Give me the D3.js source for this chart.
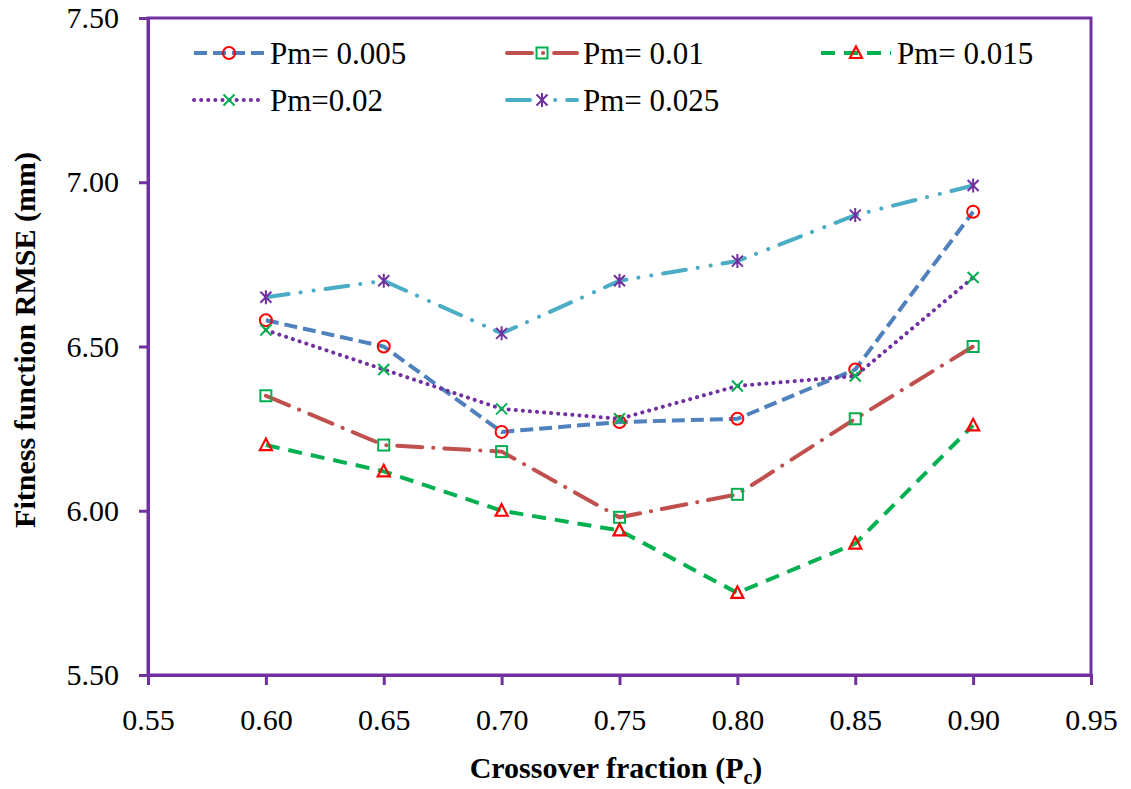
<!DOCTYPE html>
<html>
<head>
<meta charset="utf-8">
<script src="https://cdn.jsdelivr.net/npm/d3@7"></script>
<style>
    body { margin: 0; background: #fff; }
    text { font-family: "Liberation Serif", "Times New Roman", serif; fill: #000; }
</style>
</head>
<body>
<div class="chart"></div>
<script>
// crossover fraction values (x)
var crossover = [0.60, 0.65, 0.70, 0.75, 0.80, 0.85, 0.90];

// RMSE values for each mutation probability
var pm005 = [6.58, 6.50, 6.24, 6.27, 6.28, 6.43, 6.91];
var pm010 = [6.35, 6.20, 6.18, 5.98, 6.05, 6.28, 6.50];
var pm015 = [6.20, 6.12, 6.00, 5.94, 5.75, 5.90, 6.26];
var pm020 = [6.55, 6.43, 6.31, 6.28, 6.38, 6.41, 6.71];
var pm025 = [6.65, 6.70, 6.54, 6.70, 6.76, 6.90, 6.99];

var seriesNames = ["Pm= 0.005", "Pm= 0.01", "Pm= 0.015", "Pm=0.02", "Pm= 0.025"];

var xTicks = [0.55, 0.60, 0.65, 0.70, 0.75, 0.80, 0.85, 0.90, 0.95];
var yTicks = [5.50, 6.00, 6.50, 7.00, 7.50];

var purple = "#7030a0";

// line + marker styles per series
var styles = [
    { color: "#4f81bd", dash: "13,6", cap: "butt", width: 4, marker: "circle", mcolor: "#ff0000" },
    { color: "#c0504d", dash: "25,11,0.1,11", cap: "round", width: 4, marker: "square", mcolor: "#00b050" },
    { color: "#00b050", dash: "14,9", cap: "butt", width: 4, marker: "triangle", mcolor: "#ff0000" },
    { color: "#7030a0", dash: "0.1,7", cap: "round", width: 4, marker: "x", mcolor: "#00b050" },
    { color: "#4bacc6", dash: "23,12,0.1,13,0.1,12", cap: "round", width: 4, marker: "star", mcolor: "#7030a0" }
];

var allSeries = [pm005, pm010, pm015, pm020, pm025];

var margin = { top: 18, right: 40, bottom: 114, left: 148 };
var width = 1131 - margin.left - margin.right,
    height = 789 - margin.top - margin.bottom;

var svg = d3.select(".chart").append("svg")
    .attr("width", 1131)
    .attr("height", 789);

var g = svg.append("g")
    .attr("transform", "translate(" + margin.left + "," + margin.top + ")");

var x = d3.scaleLinear().domain([0.55, 0.95]).range([0, width]);
var y = d3.scaleLinear().domain([5.5, 7.5]).range([height, 0]);

// plot border
g.append("rect")
    .attr("x", 0).attr("y", 0)
    .attr("width", width).attr("height", height)
    .attr("fill", "none")
    .attr("stroke", purple)
    .attr("stroke-width", 3);

var xAxis = d3.axisBottom(x)
    .tickValues(xTicks)
    .tickSize(10)
    .tickPadding(24)
    .tickFormat(d3.format(".2f"));

var yAxis = d3.axisLeft(y)
    .tickValues(yTicks)
    .tickSize(9)
    .tickPadding(20)
    .tickFormat(d3.format(".2f"));

var gx = g.append("g")
    .attr("transform", "translate(0," + height + ")")
    .call(xAxis);

var gy = g.append("g").call(yAxis);

[gx, gy].forEach(function(ax) {
    ax.select(".domain").attr("stroke", purple).attr("stroke-width", 3);
    ax.selectAll(".tick line").attr("stroke", purple).attr("stroke-width", 3);
    ax.selectAll(".tick text")
        .attr("font-family", "Liberation Serif")
        .attr("font-size", 30)
        .attr("fill", "#000");
});
gx.selectAll(".tick text").attr("dy", "0.71em");

// axis titles
var xt = svg.append("text")
    .attr("x", 616)
    .attr("y", 778)
    .attr("text-anchor", "middle")
    .attr("font-size", 30)
    .attr("font-weight", "bold");
xt.append("tspan").text("Crossover fraction (P");
xt.append("tspan").attr("font-size", 20).attr("dy", 6).text("c");
xt.append("tspan").attr("dy", -6).text(")");

svg.append("text")
    .attr("transform", "translate(35,340) rotate(-90)")
    .attr("text-anchor", "middle")
    .attr("font-size", 30)
    .attr("font-weight", "bold")
    .text("Fitness function RMSE (mm)");

// marker drawing
function drawMarker(sel, type, color) {
    if (type === "circle") {
        sel.append("circle").attr("r", 6)
            .attr("fill", "none").attr("stroke", color).attr("stroke-width", 2);
    } else if (type === "square") {
        sel.append("rect").attr("x", -5.5).attr("y", -5.5)
            .attr("width", 11).attr("height", 11)
            .attr("fill", "none").attr("stroke", color).attr("stroke-width", 2);
    } else if (type === "triangle") {
        sel.append("path").attr("d", "M0,-6.5L6,5L-6,5Z")
            .attr("fill", "none").attr("stroke", color).attr("stroke-width", 2.2);
    } else if (type === "x") {
        sel.append("path").attr("d", "M-5.5,-5.5L5.5,5.5M-5.5,5.5L5.5,-5.5")
            .attr("stroke", color).attr("stroke-width", 2);
    } else if (type === "star") {
        sel.append("path").attr("d", "M-5.5,-5.5L5.5,5.5M-5.5,5.5L5.5,-5.5M0,-7L0,7")
            .attr("stroke", color).attr("stroke-width", 2);
    }
}

var line = d3.line()
    .x(function(d, i) { return x(crossover[i]); })
    .y(function(d) { return y(d); });

allSeries.forEach(function(values, k) {
    var s = styles[k];
    g.append("path")
        .datum(values)
        .attr("d", line)
        .attr("fill", "none")
        .attr("stroke", s.color)
        .attr("stroke-width", s.width)
        .attr("stroke-dasharray", s.dash)
        .attr("stroke-linecap", s.cap);

    g.selectAll(".m" + k)
        .data(values)
        .enter().append("g")
        .attr("class", "m" + k)
        .attr("transform", function(d, i) { return "translate(" + x(crossover[i]) + "," + y(d) + ")"; })
        .each(function() { drawMarker(d3.select(this), s.marker, s.mcolor); });
});

// legend
var legendPos = [
    { x: 194, y: 53 }, { x: 507, y: 53 }, { x: 821, y: 53 },
    { x: 194, y: 100 }, { x: 507, y: 100 }
];

seriesNames.forEach(function(name, k) {
    var s = styles[k];
    var lg = svg.append("g")
        .attr("transform", "translate(" + legendPos[k].x + "," + legendPos[k].y + ")");
    lg.append("line")
        .attr("x1", 0).attr("x2", 70)
        .attr("stroke", s.color)
        .attr("stroke-width", s.width)
        .attr("stroke-dasharray", s.dash)
        .attr("stroke-linecap", s.cap);
    lg.append("g").attr("transform", "translate(35,0)")
        .call(function(sel) { drawMarker(sel, s.marker, s.mcolor); });
    lg.append("text")
        .attr("x", 76)
        .attr("dy", "0.35em")
        .attr("font-size", 31)
        .text(name);
});
</script>
</body>
</html>
